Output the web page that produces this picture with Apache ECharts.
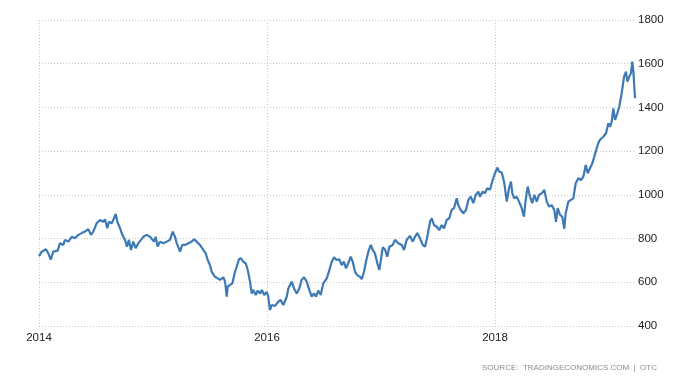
<!DOCTYPE html>
<html>
<head>
<meta charset="utf-8">
<script src="https://cdn.jsdelivr.net/npm/echarts@6/dist/echarts.min.js"></script>
<style>
html,body{margin:0;padding:0;background:#fff;}
#chart{width:700px;height:384px;}
</style>
</head>
<body>
<div id="chart"></div>
<script>
// decimal-year positions of the sampled points
const years = [
2014.000,2014.024,2014.061,2014.082,2014.103,2014.125,2014.164,2014.184,2014.213,2014.228,
2014.257,2014.287,2014.316,2014.345,2014.375,2014.404,2014.432,2014.456,2014.476,2014.506,
2014.535,2014.564,2014.579,2014.599,2014.614,2014.638,2014.658,2014.673,2014.687,2014.711,
2014.731,2014.754,2014.772,2014.789,2014.807,2014.827,2014.848,2014.871,2014.895,2014.915,
2014.945,2014.974,2014.989,2015.009,2015.024,2015.041,
2015.061,2015.090,2015.120,2015.149,2015.173,2015.193,2015.208,2015.237,2015.257,2015.281,
2015.310,2015.339,2015.362,2015.383,2015.412,2015.441,2015.462,2015.480,2015.500,2015.515,
2015.529,2015.544,2015.568,2015.588,2015.617,2015.632,2015.647,2015.655,2015.675,2015.696,
2015.719,2015.734,2015.754,2015.772,2015.792,2015.813,2015.831,2015.851,2015.866,2015.880,
2015.901,2015.918,2015.939,2015.954,2015.976,2015.997,2016.011,2016.026,2016.041,2016.070,
2016.099,2016.120,2016.143,2016.158,2016.173,2016.187,2016.217,2016.237,2016.261,2016.283,
2016.304,2016.325,2016.348,2016.371,2016.392,2016.412,2016.430,2016.450,2016.471,2016.494,
2016.524,2016.547,2016.568,2016.588,2016.611,2016.634,2016.655,2016.675,2016.693,2016.713,
2016.734,2016.752,2016.772,2016.792,2016.816,2016.831,2016.851,2016.868,2016.889,2016.910,
2016.927,2016.947,2016.968,2016.985,2016.997,2017.015,2017.035,
2017.055,2017.073,2017.103,2017.123,2017.152,2017.182,2017.202,2017.225,2017.254,2017.278,
2017.298,2017.318,2017.342,2017.366,2017.386,2017.406,2017.430,2017.445,2017.465,2017.489,
2017.511,2017.533,2017.553,2017.576,2017.599,2017.620,2017.640,2017.664,2017.678,2017.699,
2017.722,2017.746,2017.766,2017.787,2017.810,2017.831,2017.854,2017.868,2017.892,2017.912,
2017.932,2017.956,2017.980,2018.000,2018.020,2018.038,2018.059,2018.082,
2018.103,2018.123,2018.140,2018.152,2018.169,2018.190,2018.211,2018.234,2018.254,2018.269,
2018.287,2018.307,2018.327,2018.345,2018.366,2018.386,2018.410,2018.432,2018.454,2018.474,
2018.497,2018.520,2018.535,2018.550,2018.570,2018.590,2018.608,2018.620,2018.643,2018.658,
2018.687,2018.708,2018.731,2018.754,2018.775,2018.796,2018.813,2018.833,2018.854,2018.871,
2018.892,2018.906,
2018.921,2018.950,2018.974,2018.994,2019.009,2019.024,2019.038,2019.053,2019.073,2019.090,
2019.111,2019.132,2019.149,2019.161,2019.178,2019.193,2019.204,2019.213,2019.228
];
// price values
const prices = [
720,740,751,732,704,740,745,779,771,794,
786,808,801,817,825,832,843,817,832,870,
885,877,888,847,877,870,893,913,877,847,
817,794,763,794,748,786,756,779,794,808,
817,808,817,786,808,763,
786,779,786,794,832,808,779,740,771,771,
779,786,797,786,771,748,732,702,678,648,
656,625,618,611,623,603,534,580,588,595,
648,671,705,710,694,687,656,603,548,565,
542,562,548,565,542,556,534,473,496,492,
511,519,496,488,534,572,603,572,549,572,
611,623,603,565,534,549,534,562,542,595,
618,656,694,714,702,705,679,694,664,687,
717,694,648,633,625,614,648,694,740,771,
748,732,687,656,694,760,750,
717,763,771,794,779,771,748,794,812,786,
808,825,801,771,763,808,877,893,862,854,
839,862,847,885,893,931,939,984,953,931,
916,931,977,992,962,1000,1015,992,1015,1007,
1030,1023,1068,1099,1125,1106,1102,1053,
969,1030,1061,1007,984,992,969,939,900,977,
1038,992,962,1000,969,1000,1007,1023,969,946,
953,931,877,939,908,900,845,916,969,977,
984,1053,1076,1068,1083,1137,1099,1122,1145,1175,
1213,1236,
1252,1266,1282,1328,1312,1335,1396,1343,1373,1404,
1465,1541,1564,1518,1541,1557,1610,1571,1442
];
const xTickLabels = ['2014','2016','2018'];
const yMin = 400, yMax = 1800, yStep = 200;
const xMin = 2014, xMax = 2019.228, xStep = 2;
const sourceText = 'SOURCE:  TRADINGECONOMICS.COM  |  OTC';

const data = years.map((y, i) => [y, prices[i]]);
const chart = echarts.init(document.getElementById('chart'), null, {renderer: 'canvas'});
const labelFont = {fontFamily: 'Liberation Sans', fontSize: 11.5, color: '#222'};
chart.setOption({
  animation: false,
  backgroundColor: '#fff',
  grid: {left: 39, right: 65, top: 20, bottom: 58, containLabel: false},
  xAxis: {
    type: 'value', min: xMin, max: xMax, interval: xStep,
    axisLine: {show: false}, axisTick: {show: false},
    splitLine: {show: true, showMaxLine: false, lineStyle: {color: '#c8c8c8', type: [1, 2], width: 1}},
    axisLabel: Object.assign({
      margin: 6, showMaxLabel: false,
      formatter: v => { const s = String(Math.round(v)); return (Math.abs(v - Math.round(v)) < 1e-6 && xTickLabels.includes(s)) ? s : ''; }
    }, labelFont)
  },
  yAxis: {
    type: 'value', position: 'right', min: yMin, max: yMax, interval: yStep,
    axisLine: {show: false}, axisTick: {show: false},
    splitLine: {show: true, lineStyle: {color: '#c8c8c8', type: [1, 2], width: 1}},
    axisLabel: Object.assign({margin: 3, formatter: v => String(v)}, labelFont)
  },
  graphic: [{
    type: 'text', right: 43, top: 364,
    style: {text: sourceText, fill: '#8a8a8a', fontFamily: 'Liberation Sans', fontSize: 8}
  }],
  series: [{
    type: 'line', data: data, showSymbol: false, symbol: 'none',
    lineStyle: {color: '#3d7ab5', width: 2.2},
    itemStyle: {color: '#3d7ab5'}
  }]
});
</script>
</body>
</html>
